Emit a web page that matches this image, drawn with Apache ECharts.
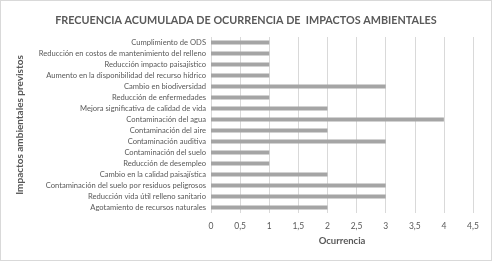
<!DOCTYPE html>
<html><head><meta charset="utf-8">
<script src="https://cdn.jsdelivr.net/npm/echarts@6/dist/echarts.min.js"></script>
<style>html,body{margin:0;padding:0;background:#fff}#c{width:492px;height:261px;box-sizing:border-box;border:1px solid #d9d9d9}</style>
</head><body><div id="c"></div>
<script>
const categories = [
  "Cumplimiento de ODS",
  "Reducción en costos de mantenimiento del relleno",
  "Reducción impacto paisajístico",
  "Aumento en la disponibilidad del recurso hídrico",
  "Cambio en biodiversidad",
  "Reducción de enfermedades",
  "Mejora significativa de calidad de vida",
  "Contaminación del agua",
  "Contaminación del aire",
  "Contaminación auditiva",
  "Contaminación del suelo",
  "Reducción de desempleo",
  "Cambio en la calidad paisajística",
  "Contaminación del suelo por residuos peligrosos",
  "Reducción vida útil relleno sanitario",
  "Agotamiento de recursos naturales"
];
const values = [1,1,1,1,3,1,2,4,2,3,1,1,2,3,3,2];
const xTicks = [0,0.5,1,1.5,2,2.5,3,3.5,4,4.5];
const font = "Lato, 'Open Sans', sans-serif";
const chart = echarts.init(document.getElementById('c'), null, {renderer:'canvas'});
chart.setOption({
  animation:false,
  title:{text:"FRECUENCIA ACUMULADA DE OCURRENCIA DE  IMPACTOS AMBIENTALES",left:'center',top:9,
    textStyle:{fontFamily:font,fontSize:10.8,fontWeight:'bold',color:'#595959'}},
  grid:{left:210,right:18,top:36,bottom:47,containLabel:false},
  xAxis:{type:'value',min:0,max:4.5,interval:0.5,
    name:'Ocurrencia',nameLocation:'middle',nameGap:20,
    nameTextStyle:{fontFamily:font,fontSize:9.5,fontWeight:'bold',color:'#595959'},
    axisLine:{show:false},axisTick:{show:false},
    axisLabel:{fontFamily:font,fontSize:8.5,color:'#595959',margin:9,
      formatter:v=>String(v).replace('.',',')},
    splitLine:{lineStyle:{color:'#d9d9d9',width:1}}},
  yAxis:{type:'category',data:categories,inverse:true,
    name:'Impactos ambientales previstos',nameLocation:'middle',nameGap:186,nameRotate:90,
    nameTextStyle:{fontFamily:font,fontSize:10,fontWeight:'bold',color:'#595959'},
    axisLine:{show:false},axisTick:{show:false},
    axisLabel:{fontFamily:font,fontSize:7.6,color:'#595959',margin:5}},
  series:[{type:'bar',data:values,barWidth:4,itemStyle:{color:'#a5a5a5'}}]
});
</script></body></html>
